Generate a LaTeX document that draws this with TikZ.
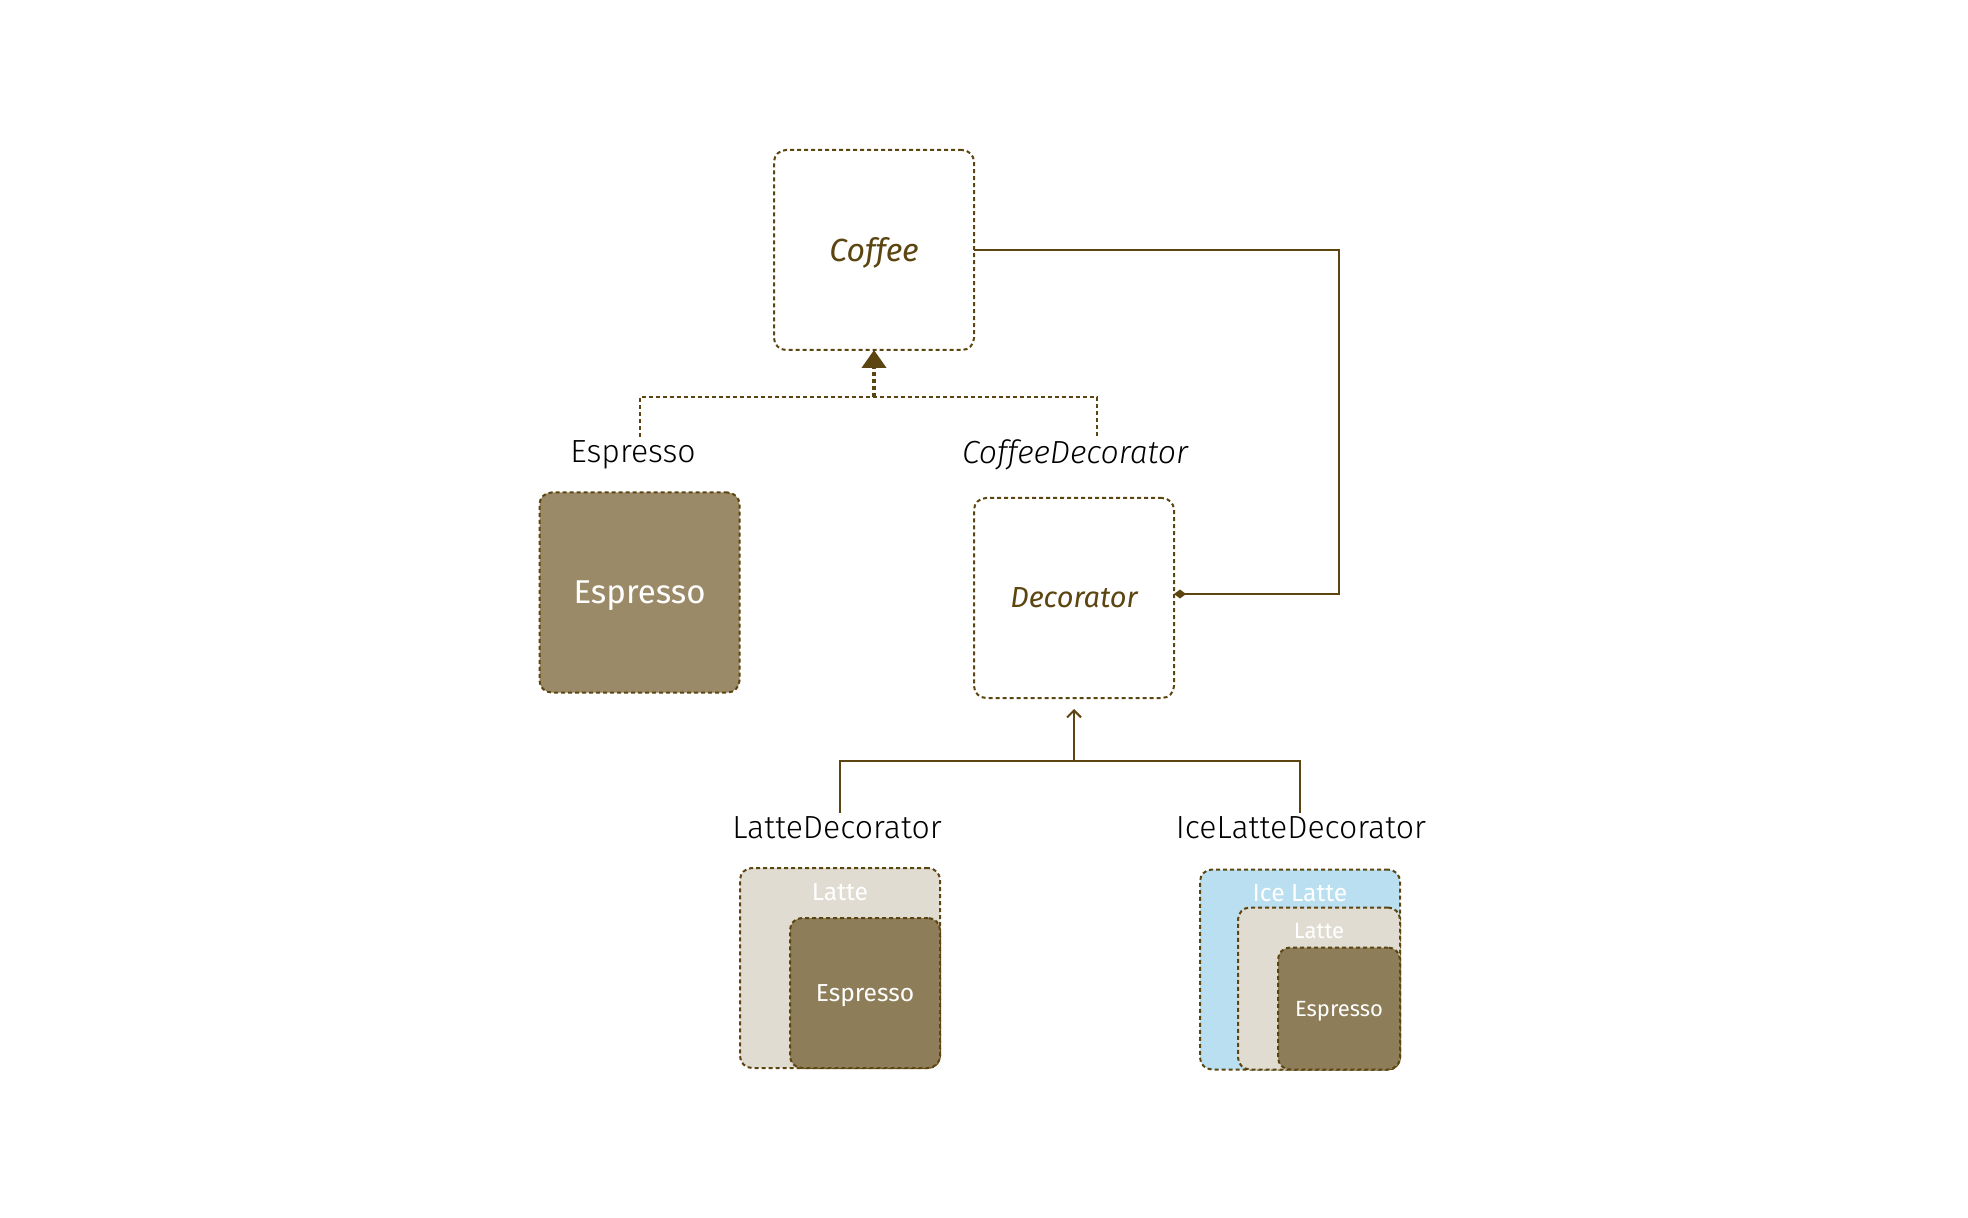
\documentclass[tikz,border=0pt]{standalone}
\usepackage{fontspec}
\setmainfont{Fira Sans}
\newfontfamily\namefont{Fira Sans}[UprightFont=* Light, ItalicFont=* Light Italic]
\usepackage{tikz}
\usetikzlibrary{positioning, arrows.meta, calc}
\definecolor{umlbrown}{HTML}{5C4510}
\definecolor{espressofill}{HTML}{9A8A68}
\definecolor{shotfill}{HTML}{8D7D58}
\definecolor{lattefill}{HTML}{E0DCD2}
\definecolor{icefill}{HTML}{B9DFF0}
\tikzset{
  dotted border/.style={
    draw=umlbrown,
    line width=1pt,
    dash pattern=on 2pt off 1.5pt,
    rounded corners=6pt,
    outer sep=0pt
  },
  class box/.style={
    dotted border,
    fill=white,
    minimum size=100pt,
    text depth=0pt,
    text=umlbrown,
    font=\fontsize{16}{19}\selectfont\itshape
  },
  class name/.style={
    text=black,
    inner sep=2pt,
    text depth=0pt,
    font=\namefont\fontsize{16}{19}\selectfont
  },
  cup box/.style={
    dotted border,
    minimum size=100pt
  },
  shot box/.style={
    dotted border,
    fill=shotfill,
    text=white,
    text depth=0pt,
    minimum size=75pt,
    font=\fontsize{12.3}{15}\selectfont
  },
  cup text/.style={
    text=white,
    inner sep=2pt,
    font=\fontsize{12.3}{15}\selectfont
  },
  impl line/.style={
    draw=umlbrown,
    line width=1pt,
    dash pattern=on 2pt off 1.5pt
  },
  impl arrow/.style={
    impl line,
    line width=2pt,
    -{Triangle[width=12pt, length=9pt]}
  },
  comp line/.style={
    draw=umlbrown,
    line width=1pt,
    -{Diamond[length=6pt, width=4.5pt]}
  },
  gen line/.style={
    draw=umlbrown,
    line width=1pt
  },
  gen arrow/.style={
    gen line,
    -{Straight Barb[length=3.5pt, width=7pt]},
    shorten >=5.5pt
  }
}

\begin{document}
\begin{tikzpicture}[x=0.5pt, y=-0.5pt]
  \useasboundingbox (0,0) rectangle (1968,1218);

  % component and decorator
  \node[class box] (coffee) at (874,250) {Coffee};
  \node[class box, font=\fontsize{14.5}{17}\selectfont\itshape] (deco) at (1074,598) {Decorator};

  % class names
  \node[class name] (esplbl) at (633,452) {Espresso};
  \node[class name, font=\namefont\fontsize{16}{19}\selectfont\itshape] (cdlbl) at (1075,452) {CoffeeDecorator};
  \node[class name] (lattelbl) at (837,828) {LatteDecorator};
  \node[class name] (icelbl) at (1301,828) {IceLatteDecorator};

  % plain espresso
  \node[shot box, fill=espressofill, minimum size=100pt,
        font=\fontsize{16.5}{20}\selectfont] (esp) at (639.5,592.5) {Espresso};

  % espresso wrapped once
  \node[cup box, fill=lattefill] (latte) at (840,968) {};
  \node[cup text, below=5.5pt of latte.north] (lattetag) {Latte};
  \node[shot box, anchor=south east] (latteshot) at (latte.south east) {Espresso};

  % espresso wrapped twice
  \node[cup box, fill=icefill] (ice) at (1300,969.5) {};
  \node[cup text, below=5.5pt of ice.north] (icetag) {Ice Latte};
  \node[cup box, fill=lattefill, minimum size=81pt, anchor=south east] (icelatte) at (ice.south east) {};
  \node[cup text, font=\fontsize{11}{13}\selectfont, below=5.5pt of icelatte.north] (icelattetag) {Latte};
  \node[shot box, minimum size=61pt, anchor=south east,
        font=\fontsize{11}{13}\selectfont] (iceshot) at (icelatte.south east) {Espresso};

  % realization
  \coordinate (implj) at (874,397);
  \draw[impl line] (esp.north |- esplbl.north) |- (implj);
  \draw[impl line] ([xshift=11pt]cdlbl.north) |- (implj);
  \draw[impl arrow] (implj) -- (coffee.south);

  % composition
  \coordinate (compj) at (1339,594);
  \draw[comp line] (coffee.east) -| (compj) -- ([yshift=2pt]deco.east);

  % inheritance
  \coordinate (genj) at (1074,761);
  \draw[gen line] (latte.north |- lattelbl.north) |- (genj);
  \draw[gen line] (ice.north |- icelbl.north) |- (genj);
  \draw[gen arrow] (genj) -- (deco.south);
\end{tikzpicture}
\end{document}
